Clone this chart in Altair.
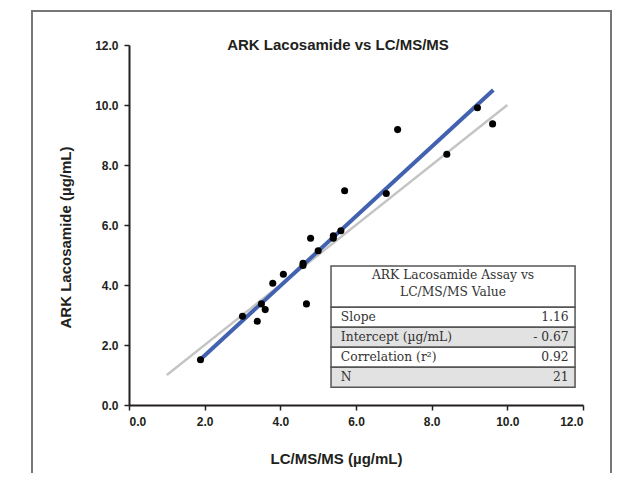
import altair as alt
import pandas as pd

# ---- data ----
lcms = [1.89, 3.00, 3.39, 3.50, 3.60, 3.80, 4.08, 4.60, 4.60, 4.69,
        4.80, 5.00, 5.40, 5.40, 5.60, 5.70, 6.80, 7.10, 8.40, 9.21, 9.61]
ark = [1.51, 2.96, 2.79, 3.37, 3.18, 4.06, 4.36, 4.65, 4.72, 3.37,
       5.56, 5.14, 5.56, 5.64, 5.81, 7.14, 7.05, 9.18, 8.36, 9.91, 9.37]

slope = 1.16
intercept = -0.67
fit_x = [1.90, 9.63]
identity_x = [1.0, 10.0]

axis_ticks = [0, 2, 4, 6, 8, 10, 12]

table_header = ["ARK Lacosamide Assay vs", "LC/MS/MS Value"]
table_labels = ["Slope", "Intercept (µg/mL)", "Correlation (r²)", "N"]
table_values = ["1.16", "- 0.67", "0.92", "21"]

# ---- frames ----
pts = pd.DataFrame({"x": lcms, "y": ark})
fit = pd.DataFrame({"x": fit_x, "y": [slope * v + intercept for v in fit_x]})
ident = pd.DataFrame({"x": identity_x, "y": identity_x})

# table layout (in data units)
TX0, TX1 = 5.34, 11.79
TTOP = 4.63
HEAD_H = 1.37
ROW_H = 0.667
rows = []
for i, (lab, val) in enumerate(zip(table_labels, table_values)):
    top = TTOP - HEAD_H - i * ROW_H
    rows.append({"x0": TX0, "x1": TX1, "y0": top, "y1": top - ROW_H,
                 "yc": top - ROW_H / 2, "label": lab, "value": val,
                 "fill": "#e2e2e2" if i % 2 == 1 else "#ffffff",
                 "lx": TX0 + 0.26, "vx": TX1 - 0.17})
rows_df = pd.DataFrame(rows)
head_df = pd.DataFrame({"x0": [TX0], "x1": [TX1], "y0": [TTOP], "y1": [TTOP - HEAD_H]})
head_txt = pd.DataFrame({"x": [(TX0 + TX1) / 2] * 2,
                         "y": [TTOP - 0.31, TTOP - 0.87],
                         "t": table_header})

sc_x = alt.Scale(domain=[0, 12], nice=False)
sc_y = alt.Scale(domain=[0, 12], nice=False)

AX_COLOR = "#231f20"
common_axis = dict(values=axis_ticks, format=".1f", grid=False,
                   labelFont="Liberation Sans", labelFontWeight="bold",
                   labelFontSize=12, labelColor=AX_COLOR,
                   titleFont="Liberation Sans", titleFontWeight="bold",
                   titleFontSize=15, titleColor=AX_COLOR,
                   domainColor=AX_COLOR, domainWidth=2,
                   tickColor=AX_COLOR, tickWidth=1.5, tickSize=5)

x_axis = alt.Axis(title="LC/MS/MS (µg/mL)", labelPadding=6,
                  titleX=207, titleY=53, titleBaseline="middle", **common_axis)
y_axis = alt.Axis(title="ARK Lacosamide (µg/mL)", labelPadding=6,
                  titleX=-64, titleY=192, titleBaseline="middle",
                  titleAngle=-90, titleAlign="center", **common_axis)

base_pts = alt.Chart(pts).mark_circle(size=50, color="#000000", opacity=1).encode(
    x=alt.X("x:Q", scale=sc_x, axis=x_axis),
    y=alt.Y("y:Q", scale=sc_y, axis=y_axis),
)

ident_line = alt.Chart(ident).mark_line(color="#c4c4c4", strokeWidth=2.4).encode(
    x=alt.X("x:Q", scale=sc_x), y=alt.Y("y:Q", scale=sc_y))
fit_line = alt.Chart(fit).mark_line(color="#4262b0", strokeWidth=4).encode(
    x=alt.X("x:Q", scale=sc_x), y=alt.Y("y:Q", scale=sc_y))

head_rect = alt.Chart(head_df).mark_rect(fill="#ffffff", stroke="#555555", strokeWidth=1.5).encode(
    x=alt.X("x0:Q", scale=sc_x), x2="x1:Q", y=alt.Y("y0:Q", scale=sc_y), y2="y1:Q")
row_rect = alt.Chart(rows_df).mark_rect(stroke="#555555", strokeWidth=1.5).encode(
    x=alt.X("x0:Q", scale=sc_x), x2="x1:Q", y=alt.Y("y0:Q", scale=sc_y), y2="y1:Q",
    fill=alt.Fill("fill:N", scale=None))
head_text = alt.Chart(head_txt).mark_text(font="DejaVu Serif", fontSize=12.3, color="#333333",
                                          align="center", baseline="middle").encode(
    x=alt.X("x:Q", scale=sc_x), y=alt.Y("y:Q", scale=sc_y), text="t:N")
lab_text = alt.Chart(rows_df).mark_text(font="DejaVu Serif", fontSize=12.3, color="#333333",
                                        align="left", baseline="middle").encode(
    x=alt.X("lx:Q", scale=sc_x), y=alt.Y("yc:Q", scale=sc_y), text="label:N")
val_text = alt.Chart(rows_df).mark_text(font="DejaVu Serif", fontSize=12.3, color="#333333",
                                        align="right", baseline="middle").encode(
    x=alt.X("vx:Q", scale=sc_x), y=alt.Y("yc:Q", scale=sc_y), text="value:N")

title = alt.Chart(pd.DataFrame({"t": ["ARK Lacosamide vs LC/MS/MS"]})).mark_text(
    font="Liberation Sans", fontSize=15, fontWeight="bold", color=AX_COLOR,
    align="center", baseline="middle").encode(
    x=alt.value(209), y=alt.value(0), text="t:N")

FRAME = "#777777"
frame_l = alt.Chart(pd.DataFrame({"a": [0]})).mark_rule(color=FRAME, strokeWidth=2).encode(
    x=alt.value(-97), y=alt.value(-34), y2=alt.value(430))
frame_r = alt.Chart(pd.DataFrame({"a": [0]})).mark_rule(color=FRAME, strokeWidth=2).encode(
    x=alt.value(482), y=alt.value(-34), y2=alt.value(430))
frame_t = alt.Chart(pd.DataFrame({"a": [0]})).mark_rule(color=FRAME, strokeWidth=2).encode(
    x=alt.value(-98), x2=alt.value(483), y=alt.value(-34))

chart = alt.layer(
    frame_l, frame_r, frame_t,
    ident_line, fit_line, base_pts,
    head_rect, row_rect, head_text, lab_text, val_text, title,
).properties(
    width=454, height=360,
    autosize=alt.AutoSizeParams(type="none"),
    padding={"left": 121, "top": 37, "right": 30, "bottom": 68},
    background="#ffffff",
).configure_view(stroke=None)

chart.save("out.html", embed_options={"renderer": "svg", "actions": False})
